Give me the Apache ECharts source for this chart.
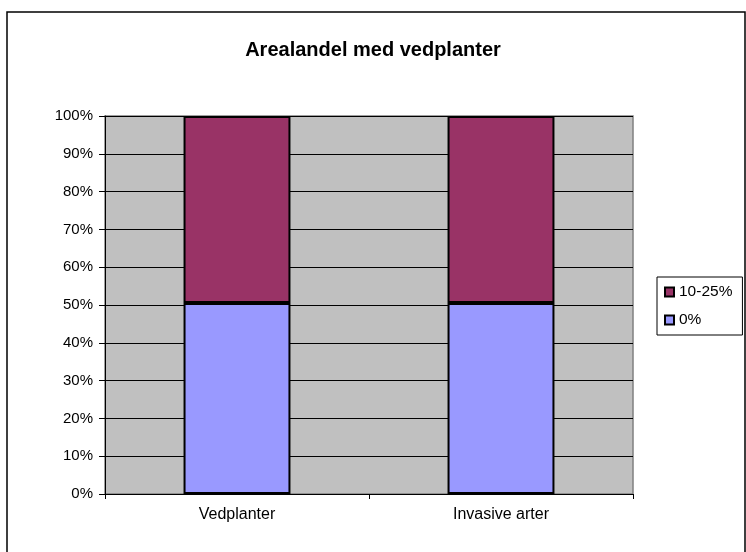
<!DOCTYPE html>
<html>
<head>
<meta charset="utf-8">
<script src="https://cdn.jsdelivr.net/npm/echarts@6/dist/echarts.min.js"></script>
<style>
html,body{margin:0;padding:0;background:#fff;}
#chart{width:746px;height:552px;}
</style>
</head>
<body>
<div id="chart"></div>
<script>
const categories = ['Vedplanter', 'Invasive arter'];
const seriesNames = ['0%', '10-25%'];
const values0 = [50.5, 50.5];
const values10_25 = [49.5, 49.5];
const yTicks = [0, 10, 20, 30, 40, 50, 60, 70, 80, 90, 100];

const chart = echarts.init(document.getElementById('chart'), null, {renderer: 'canvas'});
const font = 'Liberation Sans, Arial, sans-serif';
const option = {
  animation: false,
  backgroundColor: '#ffffff',
  title: {
    text: 'Arealandel med vedplanter',
    left: 'center',
    top: 35,
    textStyle: {fontFamily: font, fontSize: 20, fontWeight: 'bold', color: '#000'}
  },
  graphic: [{
    type: 'rect',
    shape: {x: 7, y: 12, width: 738, height: 545},
    style: {fill: 'none', stroke: '#000', lineWidth: 1.5},
    silent: true
  }],
  legend: {
    orient: 'vertical',
    left: 657,
    top: 277,
    padding: [7, 10, 7, 7],
    itemGap: 12,
    itemWidth: 9,
    itemHeight: 9,
    borderColor: '#000',
    borderWidth: 1,
    backgroundColor: '#fff',
    icon: 'rect',
    data: ['10-25%', '0%'],
    textStyle: {fontFamily: font, fontSize: 15.5, color: '#000', padding: [0, 0, 0, 0]}
  },
  grid: {
    left: 105, top: 116, right: 113, bottom: 58,
    show: true, backgroundColor: '#C0C0C0', borderColor: '#808080', borderWidth: 1.5
  },
  xAxis: {
    type: 'category',
    data: categories,
    axisLine: {lineStyle: {color: '#000', width: 1}},
    axisTick: {show: true, inside: false, length: 5, alignWithLabel: false, lineStyle: {color: '#000'}},
    axisLabel: {fontFamily: font, fontSize: 16, color: '#000', margin: 13}
  },
  yAxis: {
    type: 'value',
    min: yTicks[0],
    max: yTicks[yTicks.length - 1],
    interval: 10,
    axisLine: {show: true, lineStyle: {color: '#000', width: 1}},
    axisTick: {show: true, inside: false, length: 6, lineStyle: {color: '#000'}},
    axisLabel: {fontFamily: font, fontSize: 15, color: '#000', margin: 12, formatter: '{value}%'},
    splitLine: {show: true, lineStyle: {color: '#000', width: 1}}
  },
  series: [
    {
      name: seriesNames[0],
      type: 'bar',
      stack: 'total',
      barWidth: '40.5%',
      data: values0,
      itemStyle: {color: '#9999FF', borderColor: '#000', borderWidth: 2}
    },
    {
      name: seriesNames[1],
      type: 'bar',
      stack: 'total',
      barWidth: '40.5%',
      data: values10_25,
      itemStyle: {color: '#993366', borderColor: '#000', borderWidth: 2}
    }
  ]
};
chart.setOption(option);
</script>
</body>
</html>
